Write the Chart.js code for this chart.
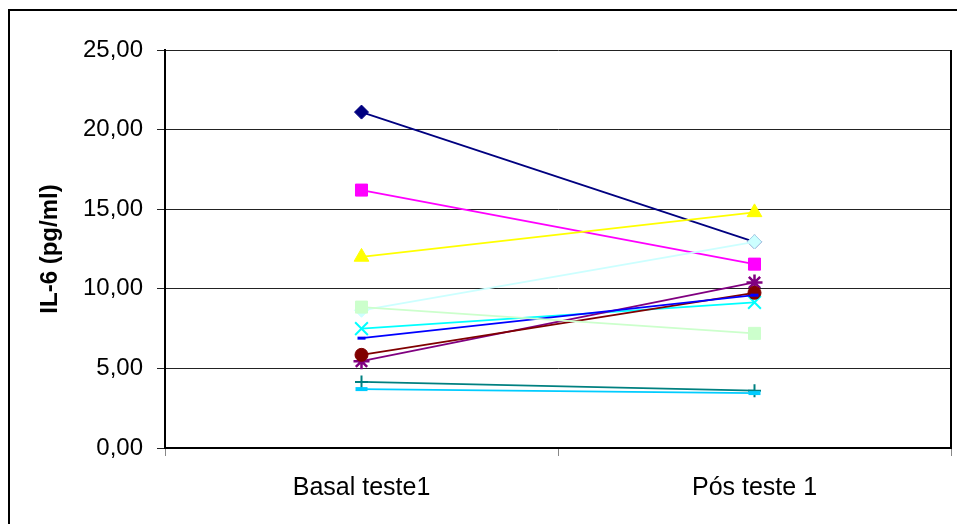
<!DOCTYPE html>
<html>
<head>
<meta charset="utf-8">
<script src="https://cdn.jsdelivr.net/npm/chart.js@4.4.1/dist/chart.umd.min.js"></script>
<style>
  html, body { margin: 0; padding: 0; background: #fff; }
  canvas { display: block; }
</style>
</head>
<body>
<canvas id="il6Chart" width="957" height="524"></canvas>
<script>
// Categories and axis range
const categories = ['Basal teste1', 'Pós teste 1'];
const yTicks = [0, 5, 10, 15, 20, 25];

// One small array per subject
const navy       = [21.1, 12.95];
const magenta    = [16.2, 11.55];
const yellow     = [12.0, 14.8];
const cyanX      = [7.5, 9.15];
const purple     = [5.45, 10.4];
const maroon     = [5.85, 9.75];
const teal       = [4.15, 3.6];
const blue       = [6.9, 9.6];
const skyBlue    = [3.7, 3.45];
const paleCyan   = [8.65, 12.95];
const paleGreen  = [8.85, 7.2];

const series = [
    { data: navy,      color: '#000080', style: 'rectRot',  r: 7 },
    { data: magenta,   color: '#FF00FF', style: 'rect',     r: 8.5 },
    { data: yellow,    color: '#FFFF00', style: 'triangle', r: 8.5 },
    { data: cyanX,     color: '#00FFFF', style: 'crossRot', r: 9, bw: 2 },
    { data: purple,    color: '#800080', style: 'star',     r: 8, bw: 2.5 },
    { data: maroon,    color: '#800000', style: 'circle',   r: 6.5 },
    { data: teal,      color: '#008080', style: 'cross',    r: 6.5, bw: 2 },
    { data: blue,      color: '#0000FF', style: 'line',     r: 4, bw: 3 },
    { data: skyBlue,   color: '#00CCFF', style: 'line',     r: 6, bw: 4 },
    { data: paleCyan,  color: '#CCFFFF', style: 'rectRot',  r: 7 },
    { data: paleGreen, color: '#CCFFCC', style: 'rect',     r: 8.5 },
];

const fontFamily = "'Liberation Sans', Arial, sans-serif";

// white background, outer frame and right border of the plot area
const framePlugin = {
    id: 'frame',
    beforeDraw(chart) {
        const c = chart.ctx;
        c.save();
        c.fillStyle = '#fff';
        c.fillRect(0, 0, chart.width, chart.height);
        c.restore();
    },
    afterDraw(chart) {
        const c = chart.ctx;
        const a = chart.chartArea;
        c.save();
        c.strokeStyle = '#000';
        c.lineWidth = 2;
        c.beginPath();
        c.moveTo(9, chart.height + 5);
        c.lineTo(9, 10);
        c.lineTo(chart.width + 5, 10);
        c.stroke();
        c.beginPath();
        c.moveTo(a.right, a.top);
        c.lineTo(a.right, a.bottom);
        c.stroke();
        c.restore();
    }
};

const ctx = document.getElementById('il6Chart').getContext('2d');
new Chart(ctx, {
    type: 'line',
    data: {
        labels: categories,
        datasets: series.map((s, i) => ({
            data: s.data,
            borderColor: s.color,
            backgroundColor: s.color,
            borderWidth: 1.8,
            pointStyle: s.style,
            pointRadius: s.r,
            pointBorderWidth: s.bw || 1,
            pointBackgroundColor: s.color,
            pointBorderColor: s.color,
            fill: false,
            tension: 0,
            order: series.length - i
        }))
    },
    options: {
        responsive: false,
        animation: false,
        layout: { autoPadding: false, padding: { top: 50, right: 6, left: 0, bottom: 0 } },
        plugins: {
            legend: { display: false },
            tooltip: { enabled: false }
        },
        scales: {
            x: {
                type: 'category',
                offset: true,
                grid: {
                    offset: true,
                    drawOnChartArea: false,
                    tickLength: 8,
                    color: '#888'
                },
                border: { color: '#000', width: 2 },
                ticks: {
                    color: '#000',
                    padding: 17,
                    maxRotation: 0,
                    font: { family: fontFamily, size: 25 }
                },
                afterFit(scale) {
                    scale.height = 76;
                    scale.paddingLeft = 0;
                    scale.paddingRight = 0;
                }
            },
            y: {
                min: 0,
                max: 25,
                afterBuildTicks(scale) {
                    scale.ticks = yTicks.map(v => ({ value: v }));
                },
                grid: {
                    color: '#222',
                    lineWidth: 1,
                    tickLength: 8
                },
                border: { color: '#000', width: 2 },
                ticks: {
                    color: '#000',
                    padding: 14,
                    font: { family: fontFamily, size: 24 },
                    callback: v => v.toFixed(2).replace('.', ',')
                },
                title: {
                    display: true,
                    text: 'IL-6 (pg/ml)',
                    color: '#000',
                    padding: { top: 36, bottom: 0 },
                    font: { family: fontFamily, size: 24, weight: 'bold' }
                },
                afterFit(scale) { scale.width = 165; }
            }
        }
    },
    plugins: [framePlugin]
});
</script>
</body>
</html>
